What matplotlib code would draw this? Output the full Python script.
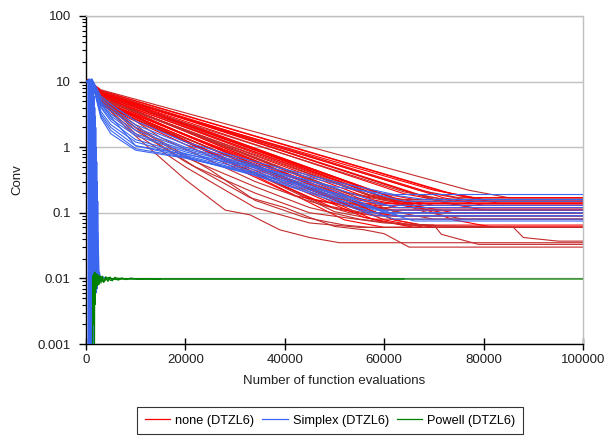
import matplotlib
matplotlib.use("Agg")
import matplotlib.pyplot as plt
from matplotlib.lines import Line2D
from matplotlib.ticker import LogLocator, FixedLocator, NullFormatter

plt.rcParams['font.family'] = ['Liberation Sans', 'DejaVu Sans']

# ---------------- data ----------------
series_names = ["none (DTZL6)", "Simplex (DTZL6)", "Powell (DTZL6)"]
x_ticks = [0, 20000, 40000, 60000, 80000, 100000]
y_ticks = [0.001, 0.01, 0.1, 1, 10, 100]
y_tick_labels = ["0.001", "0.01", "0.1", "1", "10", "100"]

# "none" runs (main band)
none_x = [
    [0, 800, 3000, 77000, 85000, 100000],
    [0, 800, 3000, 72000, 80000, 100000],
    [0, 800, 3000, 70000, 78000, 100000],
    [0, 800, 3000, 67000, 75000, 100000],
    [0, 800, 3000, 64000, 72000, 100000],
    [0, 800, 3000, 62000, 70000, 100000],
    [0, 800, 3000, 60000, 68000, 100000],
    [0, 800, 3000, 58000, 66000, 100000],
    [0, 800, 3000, 57000, 65000, 100000],
    [0, 800, 3000, 56000, 64000, 100000],
    [0, 800, 3000, 55000, 63000, 100000],
    [0, 800, 3000, 54000, 62000, 100000],
    [0, 800, 3000, 53000, 61000, 100000],
    [0, 800, 3000, 52000, 60000, 100000],
    [0, 800, 3000, 52000, 60000, 100000],
    [0, 800, 3000, 50000, 58000, 100000],
    [0, 800, 3000, 50000, 58000, 100000],
    [0, 800, 3000, 58000, 66000, 100000],
    [0, 800, 3000, 48000, 56000, 100000],
    [0, 800, 3000, 54000, 62000, 100000],
    [0, 800, 3000, 60000, 68000, 100000],
    [0, 800, 3000, 46000, 54000, 100000],
    [0, 800, 3000, 56000, 64000, 100000],
    [0, 800, 3000, 42000, 50000, 100000],
    [0, 800, 3000, 62000, 70000, 100000],
    [0, 800, 3000, 62000, 70000, 100000],
    [0, 800, 3000, 74000, 82000, 100000],
    [0, 800, 3000, 68000, 76000, 100000],
    [0, 800, 3000, 72000, 80000, 100000],
    [0, 800, 3000, 75000, 83000, 100000],
    [0, 800, 3000, 70000, 78000, 100000],
    [0, 800, 3000, 66000, 74000, 100000],
    [0, 800, 3000, 64000, 72000, 100000],
    [0, 800, 3000, 64000, 72000, 100000],
    [0, 800, 3000, 60000, 68000, 100000],
    [0, 800, 3000, 58000, 66000, 100000],
    [0, 800, 3000, 56000, 64000, 100000],
    [0, 800, 3000, 54000, 62000, 100000],
    [0, 800, 3000, 70000, 78000, 100000],
    [0, 800, 3000, 62000, 70000, 100000],
    [0, 800, 3000, 52000, 60000, 100000],
    [0, 800, 3000, 66000, 74000, 100000],
    [0, 800, 3000, 52000, 60000, 100000],
    [0, 800, 3000, 50000, 58000, 100000],
    [0, 800, 3000, 72000, 80000, 100000],
]
none_y = [
    [10.5, 10.0, 7.5, 0.221, 0.17, 0.17],
    [11.0, 10.0, 7.2, 0.208, 0.16, 0.16],
    [10.0, 9.5, 7.0, 0.195, 0.15, 0.15],
    [10.5, 10.0, 6.8, 0.221, 0.17, 0.17],
    [10.0, 9.5, 6.6, 0.195, 0.15, 0.15],
    [11.0, 10.0, 6.5, 0.169, 0.13, 0.13],
    [10.0, 9.8, 6.3, 0.156, 0.12, 0.12],
    [10.5, 10.0, 6.2, 0.208, 0.16, 0.16],
    [10.0, 9.6, 6.0, 0.182, 0.14, 0.14],
    [11.0, 10.0, 5.9, 0.130, 0.10, 0.10],
    [10.0, 9.5, 5.8, 0.156, 0.12, 0.12],
    [10.5, 9.7, 5.7, 0.117, 0.09, 0.09],
    [10.0, 9.8, 5.6, 0.195, 0.15, 0.15],
    [11.0, 10.0, 5.5, 0.143, 0.11, 0.11],
    [10.0, 9.5, 5.4, 0.078, 0.06, 0.06],
    [10.5, 9.8, 5.3, 0.104, 0.08, 0.08],
    [10.0, 9.6, 5.2, 0.169, 0.13, 0.13],
    [11.0, 10.0, 5.0, 0.078, 0.06, 0.06],
    [10.0, 9.5, 5.0, 0.130, 0.10, 0.10],
    [10.5, 9.8, 4.8, 0.117, 0.09, 0.09],
    [10.0, 9.6, 4.7, 0.078, 0.06, 0.06],
    [11.0, 10.0, 4.6, 0.156, 0.12, 0.12],
    [10.0, 9.5, 4.5, 0.085, 0.065, 0.065],
    [10.5, 9.8, 4.4, 0.182, 0.14, 0.14],
    [10.0, 9.7, 4.3, 0.078, 0.06, 0.06],
    [11.0, 10.0, 6.1, 0.078, 0.06, 0.06],
    [10.5, 9.8, 6.8, 0.078, 0.06, 0.06],
    [10.0, 9.6, 6.4, 0.104, 0.08, 0.08],
    [11.0, 10.0, 7.0, 0.143, 0.11, 0.11],
    [10.5, 9.9, 7.3, 0.182, 0.14, 0.14],
    [10.0, 9.7, 7.1, 0.156, 0.12, 0.12],
    [10.5, 10.0, 6.9, 0.195, 0.15, 0.15],
    [10.0, 9.6, 6.7, 0.130, 0.10, 0.10],
    [10.5, 9.8, 6.0, 0.208, 0.16, 0.16],
    [10.0, 9.7, 5.8, 0.169, 0.13, 0.13],
    [11.0, 10.0, 5.6, 0.156, 0.12, 0.12],
    [10.0, 9.5, 5.3, 0.195, 0.15, 0.15],
    [10.5, 9.9, 5.1, 0.143, 0.11, 0.11],
    [10.0, 9.6, 6.4, 0.221, 0.17, 0.17],
    [11.0, 10.0, 5.5, 0.104, 0.08, 0.08],
    [10.5, 9.8, 4.9, 0.182, 0.14, 0.14],
    [10.0, 9.7, 6.2, 0.130, 0.10, 0.10],
    [10.5, 10.0, 5.7, 0.208, 0.16, 0.16],
    [10.0, 9.5, 4.6, 0.117, 0.09, 0.09],
    [11.0, 10.0, 6.6, 0.169, 0.13, 0.13],
]

# "none" runs that fall faster (lower lines)
none_low_x = [
    [0, 800, 3000, 8000, 14000, 20000, 28000, 33000, 39000, 45000, 51000, 100000],
    [0, 800, 3000, 10000, 20000, 33000, 40000, 45000, 50000, 56000, 60000, 65000, 100000],
    [0, 800, 3000, 10000, 20000, 34000, 45000, 55000, 65000, 86000, 88000, 95000, 100000],
    [0, 800, 3000, 12000, 22000, 34000, 45000, 60000, 70000, 71500, 79000, 100000],
    [0, 800, 3000, 12000, 25000, 34000, 44000, 52000, 57000, 100000],
    [0, 800, 3000, 10000, 20000, 34000, 45000, 55000, 100000],
    [0, 800, 3000, 15000, 34000, 45000, 53000, 60000, 100000],
]
none_low_y = [
    [10.5, 9.8, 5.0, 2.0, 0.8, 0.32, 0.11, 0.093, 0.055, 0.042, 0.035, 0.035],
    [10.0, 9.6, 5.2, 1.8, 0.6, 0.17, 0.12, 0.085, 0.062, 0.055, 0.048, 0.030, 0.030],
    [10.5, 10.0, 5.5, 2.0, 0.7, 0.25, 0.12, 0.08, 0.065, 0.06, 0.042, 0.037, 0.037],
    [10.0, 9.5, 5.1, 1.5, 0.5, 0.2, 0.1, 0.07, 0.065, 0.047, 0.033, 0.033],
    [11.0, 10.0, 5.3, 1.7, 0.45, 0.155, 0.085, 0.065, 0.06, 0.06],
    [10.0, 9.6, 4.9, 1.6, 0.5, 0.12, 0.07, 0.06, 0.06],
    [10.5, 9.8, 5.6, 1.4, 0.3, 0.15, 0.1, 0.09, 0.09],
]

# Simplex runs
simplex_x = [
    [0, 1200, 3000, 5000, 10000, 20000, 34000, 50000, 62000, 100000],
    [0, 1200, 3000, 5000, 10000, 20000, 34000, 50000, 64000, 100000],
    [0, 1200, 3000, 5000, 10000, 20000, 34000, 50000, 62000, 100000],
    [0, 1200, 3000, 5000, 10000, 20000, 34000, 50000, 60000, 100000],
    [0, 1200, 3000, 5000, 10000, 20000, 34000, 50000, 63000, 100000],
    [0, 1200, 3000, 5000, 10000, 20000, 34000, 50000, 58000, 100000],
    [0, 1200, 3000, 5000, 10000, 20000, 34000, 50000, 66000, 100000],
    [0, 1200, 3000, 5000, 10000, 20000, 34000, 50000, 57000, 100000],
    [0, 1200, 3000, 5000, 10000, 20000, 34000, 50000, 62000, 100000],
    [0, 1200, 3000, 5000, 10000, 20000, 34000, 50000, 58000, 100000],
    [0, 1200, 3000, 5000, 10000, 20000, 34000, 50000, 60000, 100000],
    [0, 1200, 3000, 5000, 10000, 20000, 34000, 50000, 68000, 100000],
]
simplex_y = [
    [10, 11.0, 6.0, 4.5, 2.5, 1.2, 0.6, 0.3, 0.19, 0.19],
    [10, 10.5, 5.5, 4.0, 2.2, 1.1, 0.55, 0.28, 0.15, 0.15],
    [10, 10.0, 5.0, 3.6, 2.0, 1.0, 0.52, 0.24, 0.12, 0.12],
    [10, 10.5, 4.8, 3.2, 1.8, 0.95, 0.5, 0.22, 0.10, 0.10],
    [10, 10.0, 4.5, 3.0, 1.6, 0.9, 0.48, 0.2, 0.09, 0.09],
    [10, 10.5, 4.2, 2.7, 1.5, 0.85, 0.45, 0.19, 0.11, 0.11],
    [10, 10.0, 4.0, 2.5, 1.3, 0.8, 0.42, 0.18, 0.075, 0.075],
    [10, 10.5, 3.5, 2.2, 1.2, 0.75, 0.4, 0.17, 0.10, 0.10],
    [10, 10.0, 3.2, 2.0, 1.05, 0.72, 0.38, 0.16, 0.08, 0.08],
    [10, 10.5, 3.0, 1.8, 0.95, 0.7, 0.37, 0.15, 0.09, 0.09],
    [10, 10.0, 2.8, 1.6, 0.9, 0.68, 0.4, 0.2, 0.13, 0.13],
    [10, 10.5, 4.6, 2.9, 1.05, 0.78, 0.5, 0.25, 0.16, 0.16],
]
# Simplex runs that collapse quickly near x = 0
simplex_fast_x = [
    [400, 500, 600, 700, 800, 900, 1000, 1100, 1200, 1300, 1400, 1500, 1600,
     1700, 1800, 1900, 2000, 2100, 2200, 2300, 2400, 2600, 2800, 3200],
    [450, 550, 650, 750, 850, 950, 1050, 1150, 1250, 1350, 1450, 1550, 1650,
     1750, 1850, 1950, 2050, 2150, 2250, 2350, 2500, 2700, 3000, 3500, 4000],
    [500, 580, 660, 740, 820, 900, 980, 1060, 1140, 1220, 1300, 1380, 1460,
     1540, 1620, 1700, 1780, 1860, 1940, 2020, 2100, 2180, 2260, 2500, 2900],
]
simplex_fast_y = [
    [10, 0.0006, 11, 0.0008, 10, 0.002, 9.5, 0.0009, 9, 0.003, 8, 0.004, 6,
     0.006, 3, 0.007, 1.0, 0.008, 0.3, 0.009, 0.05, 0.013, 0.009, 0.0105],
    [0.0005, 10, 0.001, 9.5, 0.0015, 9, 0.002, 8.5, 0.0012, 7.5, 0.003, 6, 0.0007,
     4, 0.005, 2, 0.006, 0.6, 0.007, 0.15, 0.0085, 0.0125, 0.0092, 0.0105, 0.0099],
    [9, 0.002, 10, 0.003, 9.5, 0.001, 9, 0.004, 8.5, 0.002, 8, 0.005, 7,
     0.003, 5, 0.006, 2.5, 0.007, 0.8, 0.008, 0.2, 0.009, 0.04, 0.012, 0.0095],
]

# Powell runs
powell_x = [
    [1700, 1750, 1800, 1850, 1900, 2000, 2100, 2200, 2300, 2450, 2600, 2800, 3000,
     3300, 3600, 4000, 4400, 4800, 5300, 5800, 6500, 7200, 8000, 9000, 10500,
     12000, 15000, 64000],
    [1300, 1400, 1500, 1600, 1700, 1900, 2100, 2300, 2600, 3000, 3500, 4000, 5000,
     6000, 8000, 100000],
    [1500, 1600, 1700, 1800, 2000, 2200, 2500, 3000, 3500, 4500, 6000, 8000, 15000],
]
powell_y = [
    [0.0006, 0.0125, 0.004, 0.012, 0.006, 0.0118, 0.007, 0.0115, 0.0078, 0.0113,
     0.0082, 0.011, 0.0085, 0.0108, 0.0088, 0.0106, 0.009, 0.0105, 0.0092, 0.0104,
     0.0094, 0.0102, 0.0096, 0.0101, 0.0097, 0.0099, 0.0098, 0.0098],
    [0.0005, 0.011, 0.003, 0.0115, 0.006, 0.0112, 0.0075, 0.011, 0.0082, 0.0107,
     0.0088, 0.0104, 0.0093, 0.0101, 0.0098, 0.0098],
    [0.002, 0.0118, 0.005, 0.0112, 0.0072, 0.0109, 0.008, 0.0106, 0.0088, 0.0103,
     0.0096, 0.0099, 0.0097],
]

# ---------------- styles ----------------
red_bright = "#FF0000"
red_dark = "#C42B2B"
blue = "#3A66F0"
green = "#008000"
grid_color = "#C0C0C0"

fig = plt.figure(figsize=(6.09, 4.37), dpi=100)
ax = fig.add_axes([0.1412, 0.2128, 0.8161, 0.7506])

for i, (xs, ys) in enumerate(zip(none_x, none_y)):
    ax.plot(xs, ys, color=red_bright if i % 3 else red_dark, lw=0.8, zorder=2)
for xs, ys in zip(none_low_x, none_low_y):
    ax.plot(xs, ys, color=red_dark, lw=0.8, zorder=2)
for xs, ys in zip(simplex_x, simplex_y):
    ax.plot(xs, ys, color=blue, lw=0.8, zorder=3)
for xs, ys in zip(simplex_fast_x, simplex_fast_y):
    ax.plot(xs, ys, color=blue, lw=0.9, zorder=3)
for xs, ys in zip(powell_x, powell_y):
    ax.plot(xs, ys, color=green, lw=0.9, zorder=4)

ax.set_yscale("log")
ax.set_xlim(0, 100000)
ax.set_ylim(0.001, 100)
ax.yaxis.set_major_locator(FixedLocator(y_ticks))
ax.set_yticklabels(y_tick_labels)
ax.yaxis.set_minor_locator(LogLocator(base=10, subs=range(2, 10)))
ax.yaxis.set_minor_formatter(NullFormatter())
ax.set_xticks(x_ticks)
ax.set_xticklabels([str(v) for v in x_ticks])

ax.grid(axis="y", which="major", color=grid_color, lw=1.0, zorder=0)
ax.set_axisbelow(True)

ax.tick_params(axis="y", which="major", direction="out", length=5, width=1,
               labelsize=9.5, colors="black", labelcolor="#202020", pad=6)
ax.tick_params(axis="y", which="minor", direction="out", length=3, width=0.8)
ax.tick_params(axis="x", which="major", direction="inout", length=8, width=1,
               labelsize=9.5, labelcolor="#202020", pad=3)

for s in ["left", "bottom"]:
    ax.spines[s].set_color("black")
    ax.spines[s].set_linewidth(1.0)
for s in ["top", "right"]:
    ax.spines[s].set_color(grid_color)
    ax.spines[s].set_linewidth(1.0)

ax.set_xlabel("Number of function evaluations", fontsize=9.5, color="#202020")
ax.xaxis.set_label_coords(0.5, -0.095)
ax.set_ylabel("Conv", fontsize=9.5, color="#202020")
ax.yaxis.set_label_coords(-0.125, 0.5)

handles = [Line2D([], [], color=red_bright, lw=0.9),
           Line2D([], [], color=blue, lw=0.9),
           Line2D([], [], color=green, lw=0.9)]
leg = fig.legend(handles, series_names, loc="center", bbox_to_anchor=(0.542, 0.037),
                 ncol=3, frameon=True, fancybox=False, fontsize=9.2,
                 handlelength=2.0, handletextpad=0.4, columnspacing=0.6,
                 borderpad=0.6, borderaxespad=0)
leg.get_frame().set_edgecolor("black")
leg.get_frame().set_linewidth(0.8)

fig.savefig("out.png", dpi=100)
